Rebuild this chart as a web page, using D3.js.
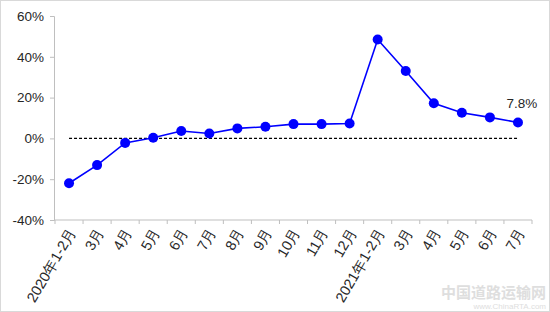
<!DOCTYPE html>
<html>
<head>
<meta charset="utf-8">
<script src="https://cdn.jsdelivr.net/npm/d3@7"></script>
<style>
  body { margin: 0; background: #fff; }
  text { font-family: "Liberation Sans", Arial, sans-serif; }
</style>
</head>
<body>
<svg id="chart" width="550" height="312"></svg>
<script>
// categories along the x axis
var months = ["2020年1-2月", "3月", "4月", "5月", "6月", "7月", "8月", "9月", "10月", "11月", "12月",
              "2021年1-2月", "3月", "4月", "5月", "6月", "7月"];
// growth values (%)
var growth = [-22.0, -13.1, -2.2, 0.3, 3.6, 2.4, 4.9, 5.7, 7.0, 7.0, 7.3,
              48.5, 33.0, 17.2, 12.6, 10.3, 7.8];
var yTicks = [-40, -20, 0, 20, 40, 60];

var svg = d3.select("#chart");

// outer frame
svg.append("rect")
    .attr("x", 0.5).attr("y", 0.5)
    .attr("width", 549).attr("height", 311)
    .attr("fill", "#fff")
    .attr("stroke", "#d9d9d9");

var data = months.map(function(m, i) { return { key: i, label: m, value: growth[i] }; });

var x = d3.scaleBand().domain(d3.range(months.length)).range([55, 532]);
var y = d3.scaleLinear().domain([-40, 60]).range([220, 16]);

// y axis
var yAxis = svg.append("g")
    .attr("transform", "translate(54,0)")
    .call(d3.axisLeft(y).tickValues(yTicks).tickSize(4).tickFormat(function(d) { return d + "%"; }));
yAxis.select(".domain").attr("stroke", "#bfbfbf");
yAxis.selectAll(".tick line").attr("stroke", "#bfbfbf");
yAxis.selectAll("text")
    .attr("x", -10)
    .style("font-size", "13.5px")
    .attr("fill", "#262626");

// x axis, ticks between categories
var xAxis = svg.append("g").attr("transform", "translate(0,220)");
xAxis.append("line")
    .attr("x1", 54).attr("x2", x.range()[1])
    .attr("stroke", "#bfbfbf");
xAxis.selectAll(".sep")
    .data(d3.range(months.length + 1))
    .enter().append("line")
    .attr("class", "sep")
    .attr("x1", function(d) { return 55 + d * x.step(); })
    .attr("x2", function(d) { return 55 + d * x.step(); })
    .attr("y1", 0).attr("y2", 4)
    .attr("stroke", "#bfbfbf");

xAxis.selectAll(".lbl")
    .data(data)
    .enter().append("text")
    .attr("class", "lbl")
    .attr("transform", function(d) {
      return "translate(" + (x(d.key) + x.bandwidth() / 2 + 3) + ",9) rotate(-60)";
    })
    .attr("text-anchor", "end")
    .attr("dy", "0.35em")
    .style("font-size", "14.5px")
    .attr("fill", "#262626")
    .text(function(d) { return d.label; });

function cx(d) { return x(d.key) + x.bandwidth() / 2; }

// zero reference line
svg.append("line")
    .attr("x1", cx(data[0])).attr("x2", cx(data[data.length - 1]))
    .attr("y1", y(0)).attr("y2", y(0))
    .attr("stroke", "#000")
    .attr("stroke-width", 1.3)
    .attr("stroke-dasharray", "3,2");

// line
var line = d3.line()
    .x(cx)
    .y(function(d) { return y(d.value); });

svg.append("path")
    .datum(data)
    .attr("d", line)
    .attr("fill", "none")
    .attr("stroke", "#0000ff")
    .attr("stroke-width", 1.6);

svg.append("g")
    .selectAll("circle")
    .data(data)
    .enter().append("circle")
    .attr("cx", cx)
    .attr("cy", function(d) { return y(d.value); })
    .attr("r", 5)
    .attr("fill", "#0000ff");

// label on last point
var last = data[data.length - 1];
svg.append("text")
    .attr("x", cx(last) + 4)
    .attr("y", y(last.value) - 14)
    .attr("text-anchor", "middle")
    .style("font-size", "13.5px")
    .attr("fill", "#262626")
    .text(last.value.toFixed(1) + "%");

// watermark
svg.append("text")
    .attr("x", 546).attr("y", 298)
    .attr("text-anchor", "end")
    .style("font-family", "'Noto Sans CJK SC', sans-serif")
    .style("font-size", "15px")
    .style("font-weight", "bold")
    .attr("fill", "#dedede")
    .text("中国道路运输网");
svg.append("text")
    .attr("x", 546).attr("y", 309)
    .attr("text-anchor", "end")
    .style("font-size", "8px")
    .attr("fill", "#dedede")
    .text("www.ChinaRTA.com");
</script>
</body>
</html>
